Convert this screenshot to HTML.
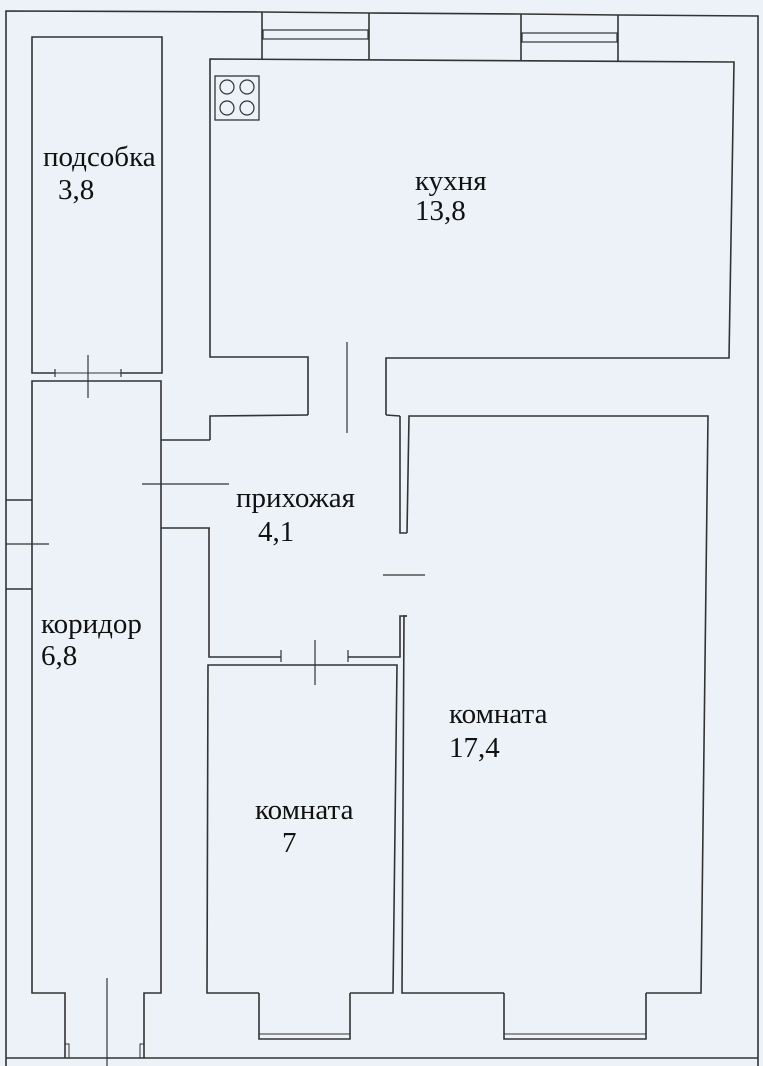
<!DOCTYPE html>
<html><head><meta charset="utf-8"><style>
html,body{margin:0;padding:0;background:#edf2f8;}
svg{display:block}
</style></head><body>
<svg width="763" height="1066" viewBox="0 0 763 1066" xmlns="http://www.w3.org/2000/svg">
<rect width="763" height="1066" fill="#edf2f8"/>
<g fill="none" stroke="#333" stroke-width="1.6">
<polyline points="262,12 6,11 6,1066"/>
<line x1="369" y1="13" x2="521" y2="14"/>
<polyline points="618,15 758,16 758,1066"/>
<line x1="6" y1="1058" x2="758" y2="1058"/>
<polyline points="262,12 369,13"/>
<line x1="262" y1="12" x2="262" y2="59"/><line x1="369" y1="13" x2="369" y2="60"/>
<rect x="263" y="30" width="105" height="9" stroke-width="1.2"/>
<line x1="521" y1="14" x2="618" y2="15"/>
<line x1="521" y1="14" x2="521" y2="61"/><line x1="618" y1="15" x2="618" y2="62"/>
<rect x="522" y="33" width="95" height="9" stroke-width="1.2"/>
<polyline points="308,415 308,357 210,357 210,59 734,62 729,358 386,358 386,415"/>
<rect x="215" y="76" width="44" height="44" stroke-width="1.3"/>
<circle cx="227" cy="87" r="7" stroke-width="1.2"/><circle cx="247" cy="87" r="7" stroke-width="1.2"/>
<circle cx="227" cy="108" r="7" stroke-width="1.2"/><circle cx="247" cy="108" r="7" stroke-width="1.2"/>
<line x1="347" y1="342" x2="347" y2="433" stroke-width="1.2"/>
<polyline points="55,373 32,373 32,37 162,37 162,373 121,373"/>
<line x1="55" y1="373" x2="121" y2="373" stroke-width="1"/>
<line x1="55" y1="369" x2="55" y2="377" stroke-width="1.2"/>
<line x1="121" y1="369" x2="121" y2="377" stroke-width="1.2"/>
<line x1="88" y1="355" x2="88" y2="398" stroke-width="1.2"/>
<polyline points="65,1058 65,993 32,993 32,381 161,381 161,993 144,993 144,1058"/>
<rect x="65" y="1044" width="4" height="14" stroke-width="1"/>
<rect x="140" y="1044" width="4" height="14" stroke-width="1"/>
<line x1="107" y1="978" x2="107" y2="1066" stroke-width="1.2"/>
<line x1="6" y1="500" x2="32" y2="500"/><line x1="6" y1="589" x2="32" y2="589"/>
<line x1="6" y1="544" x2="49" y2="544" stroke-width="1.2"/>
<line x1="161" y1="440" x2="210" y2="440"/><line x1="161" y1="528" x2="210" y2="528"/>
<line x1="142" y1="484" x2="229" y2="484" stroke-width="1.2"/>
<polyline points="210,440 210,416 308,415"/>
<line x1="386" y1="415" x2="400" y2="416"/>
<polyline points="400,416 400,533 407,533"/>
<polyline points="407,616 400,616 400,657 348,657"/>
<polyline points="281,657 209,657 209,528"/>
<line x1="281" y1="650" x2="281" y2="662" stroke-width="1.2"/>
<line x1="348" y1="650" x2="348" y2="662" stroke-width="1.2"/>
<line x1="315" y1="640" x2="315" y2="685" stroke-width="1.2"/>
<line x1="383" y1="575" x2="425" y2="575" stroke-width="1.2"/>
<polyline points="259,993 207,993 208,665 397,665 393,993 350,993"/>
<polyline points="259,993 259,1039 350,1039 350,993"/>
<rect x="259" y="1034" width="91" height="5" stroke-width="1"/>
<polyline points="407,533 409,416 708,416 701,993 646,993"/>
<polyline points="504,993 402,993 404,616 407,616"/>
<polyline points="504,993 504,1039 646,1039 646,993"/>
<rect x="504" y="1034" width="142" height="5" stroke-width="1"/>
</g>
<g font-family="'Liberation Serif','DejaVu Serif',serif" font-size="29" fill="#111">
<text x="43" y="166">подсобка</text>
<text x="58" y="199">3,8</text>
<text x="415" y="190">кухня</text>
<text x="415" y="220">13,8</text>
<text x="236" y="507">прихожая</text>
<text x="258" y="541">4,1</text>
<text x="41" y="633">коридор</text>
<text x="41" y="665">6,8</text>
<text x="255" y="819">комната</text>
<text x="282" y="852">7</text>
<text x="449" y="723">комната</text>
<text x="449" y="757">17,4</text>
</g>
</svg>
</body></html>
